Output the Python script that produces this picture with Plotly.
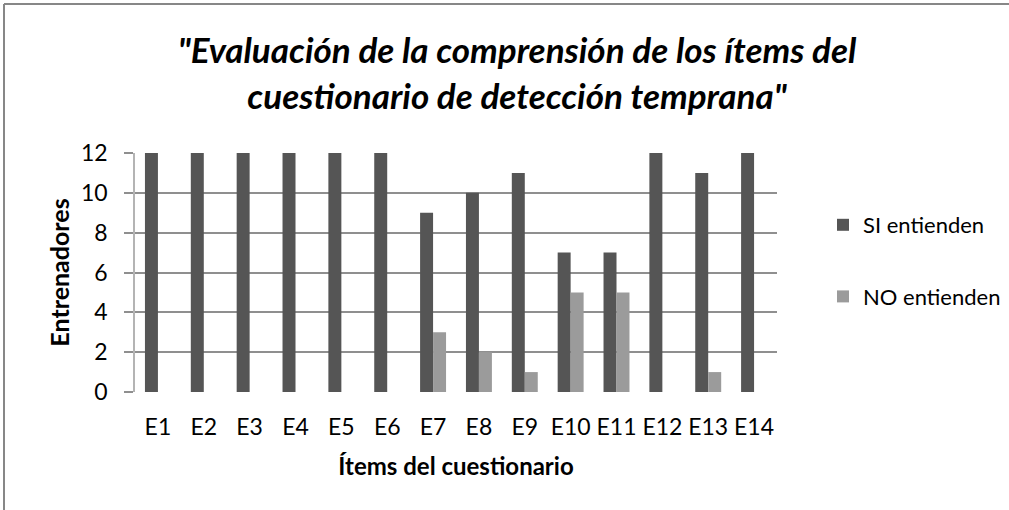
import plotly.graph_objects as go

categories = ["E1", "E2", "E3", "E4", "E5", "E6", "E7", "E8", "E9", "E10", "E11", "E12", "E13", "E14"]
si_values = [12, 12, 12, 12, 12, 12, 9, 10, 11, 7, 7, 12, 11, 12]
no_values = [0, 0, 0, 0, 0, 0, 3, 2, 1, 5, 5, 0, 1, 0]
y_ticks = [0, 2, 4, 6, 8, 10, 12]

FONT = "Lato"
W, H = 1009, 510
L, R, T, B = 135, 777, 153, 392

fig = go.Figure()
fig.add_trace(go.Bar(x=categories, y=si_values, name="SI entienden",
                     marker=dict(color="#555555", line=dict(width=0)),
                     legendgroup="si"))
fig.add_trace(go.Bar(x=categories, y=no_values, name="NO entienden",
                     marker=dict(color="#9b9b9b", line=dict(width=0)),
                     legendgroup="no"))

pw, ph = R - L, B - T
def px_x(x):
    return (x - L) / pw
def px_y(y):
    return (B - y) / ph

fig.update_layout(
    width=W, height=H,
    margin=dict(l=L, r=W - R, t=T, b=H - B, autoexpand=False),
    paper_bgcolor="white", plot_bgcolor="white",
    barmode="group", bargap=0.434, bargroupgap=0,
    font=dict(family=FONT, color="#000000", size=23),
    showlegend=True,
    legend=dict(x=px_x(823), y=px_y(261), xanchor="left", yanchor="middle",
                font=dict(family=FONT, size=22, color="#000000"),
                traceorder="grouped", tracegroupgap=40,
                bgcolor="rgba(0,0,0,0)"),
    xaxis=dict(showgrid=False, showline=False, ticks="", zeroline=False,
               tickfont=dict(family=FONT, size=23), ticklabelstandoff=19,
               title=dict(text="<b>Ítems del cuestionario</b>", standoff=19,
                          font=dict(family=FONT, size=24))),
    yaxis=dict(range=[0, 12], tickvals=y_ticks, showgrid=True,
               gridcolor="#8f8f8f", gridwidth=1.5, zeroline=False,
               showline=True, linecolor="#b4b4b4", linewidth=1.5,
               ticks="outside", ticklen=9, tickcolor="#8f8f8f", tickwidth=1.5,
               tickfont=dict(family=FONT, size=23), ticklabelstandoff=12,
               title=dict(text="<b>Entrenadores</b>", standoff=4,
                          font=dict(family=FONT, size=25))),
    title=dict(text="<b><i>\"Evaluación de la comprensión de los ítems del<br>cuestionario de detección temprana\"</i></b>",
               x=px_x(517), xanchor="center", xref="paper",
               y=1 - 63 / H, yanchor="middle", yref="container",
               font=dict(family=FONT, size=35, color="#000000")),
)

# chart frame (only top and left edges are visible in the reference crop)
fig.add_shape(type="line", xref="paper", yref="paper",
              x0=px_x(4), x1=px_x(1060), y0=px_y(4), y1=px_y(4),
              line=dict(color="#878787", width=2), layer="below")
fig.add_shape(type="line", xref="paper", yref="paper",
              x0=px_x(4), x1=px_x(4), y0=px_y(4), y1=px_y(560),
              line=dict(color="#878787", width=2), layer="below")

fig.write_html("out.html", config={"displayModeBar": False},
               post_script="document.body.style.margin='0px';document.body.style.overflow='hidden';")
